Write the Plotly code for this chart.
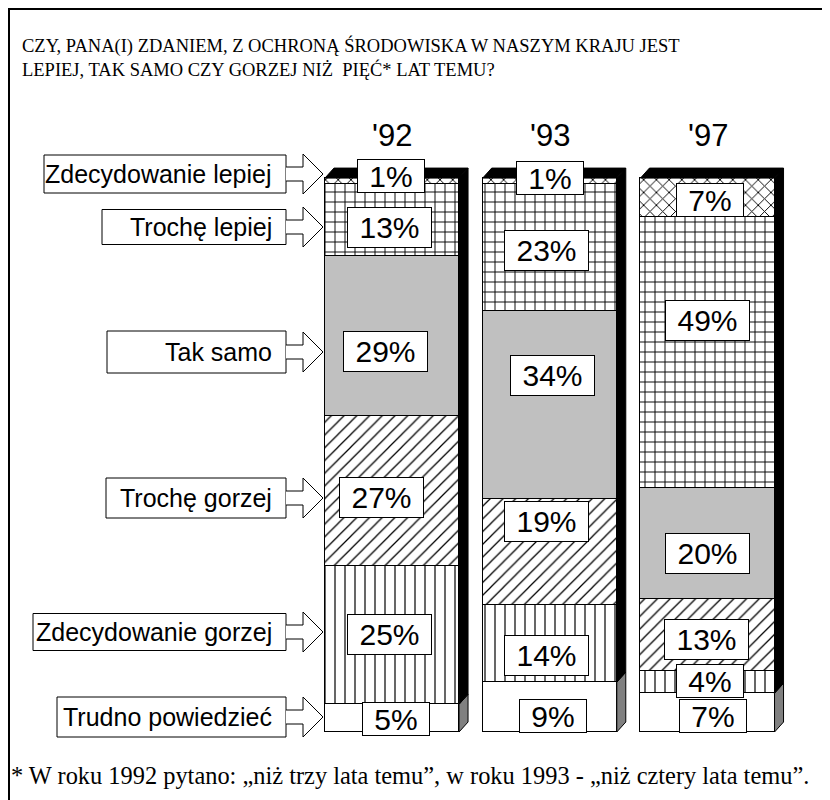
import plotly.graph_objects as go

# ---------------- data ----------------
years = ["'92", "'93", "'97"]
series_names = ["Trudno powiedzieć", "Zdecydowanie gorzej", "Trochę gorzej",
                "Tak samo", "Trochę lepiej", "Zdecydowanie lepiej"]
trudno = [5, 9, 7]
zdec_gorzej = [25, 14, 4]
troche_gorzej = [27, 19, 13]
tak_samo = [29, 34, 20]
troche_lepiej = [13, 23, 49]
zdec_lepiej = [1, 1, 7]
series_values = [trudno, zdec_gorzej, troche_gorzej, tak_samo, troche_lepiej, zdec_lepiej]

title_text = ("CZY, PANA(I) ZDANIEM, Z OCHRONĄ ŚRODOWISKA W NASZYM KRAJU JEST<br>"
              "LEPIEJ, TAK SAMO CZY GORZEJ NIŻ  PIĘĆ* LAT TEMU?")
footnote_text = "* W roku 1992 pytano: „niż trzy lata temu”, w roku 1993 - „niż cztery lata temu”."

# ---------------- styles / layout ----------------
patterns = [
    dict(shape="", color="white"),
    dict(shape="|", size=10, solidity=0.12),
    dict(shape="/", size=9, solidity=0.14),
    dict(shape="", color="#c0c0c0"),
    dict(shape="+", size=10, solidity=0.18),
    dict(shape="x", size=9, solidity=0.2),
]
# manual nudges of percent labels (pixels), order bottom->top
label_xshift = [[4, -3, -11, -7, -3, -1], [3, -3, -3, 3, -3, 0], [5, 2, -1, 0, 0, 2]]
label_yshift = [[-1, 1, -6, -16, -8, 5], [-9, -12, 30, 30, -3, 3], [-3, 1, -4, -10, 32, -3]]

# left category label boxes (page pixel geometry)
left_box_left = [57, 33, 106, 107, 102, 44]
left_box_cy = [717, 632, 498, 352, 227, 174]
left_box_h = [40, 37, 40, 42, 35, 38]
BOX_RIGHT = 286

OFF = 8  # page offset of the figure (body margin)
W, H = 822, 792
ML, MR, MT, MB = 292, 30, 159, 68
PW, PH = W - ML - MR, H - MT - MB
XMIN, XMAX = -0.5832, 2.5864
YMIN, YMAX = 0, 102
BAR_W = 0.85
DEPTH_X = 9 / (PW / (XMAX - XMIN))
DEPTH_Y = 10 / (PH / (YMAX - YMIN))


def xp(px):
    return (px - OFF - ML) / PW


def yp(py):
    return (H - MB - (py - OFF)) / PH


xs = list(range(len(years)))
fig = go.Figure()
for name, vals, pat in zip(series_names, series_values, patterns):
    if pat["shape"]:
        marker = dict(color="white",
                      pattern=dict(shape=pat["shape"], size=pat["size"], solidity=pat["solidity"],
                                   fgcolor="black", bgcolor="white", fillmode="replace"),
                      line=dict(color="black", width=1.5))
    else:
        marker = dict(color=pat["color"], line=dict(color="black", width=1.5))
    fig.add_trace(go.Bar(x=xs, y=vals, name=name, width=BAR_W, marker=marker,
                         showlegend=False, hoverinfo="skip"))

shapes = []
annotations = []

# 3D top and side faces
for i, x in enumerate(xs):
    total = sum(v[i] for v in series_values)
    x0, x1 = x - BAR_W / 2, x + BAR_W / 2
    top = (f"M {x0},{total} L {x0 + DEPTH_X},{total + DEPTH_Y} L {x1 + DEPTH_X},{total + DEPTH_Y} "
           f"L {x1},{total} Z")
    shapes.append(dict(type="path", xref="x", yref="y", path=top, fillcolor="black",
                       line=dict(color="black", width=1)))
    b = trudno[i]
    side_low = (f"M {x1},0 L {x1 + DEPTH_X},{DEPTH_Y} L {x1 + DEPTH_X},{b + DEPTH_Y} L {x1},{b} Z")
    shapes.append(dict(type="path", xref="x", yref="y", path=side_low, fillcolor="#808080",
                       line=dict(color="black", width=1)))
    side_hi = (f"M {x1},{b} L {x1 + DEPTH_X},{b + DEPTH_Y} L {x1 + DEPTH_X},{total + DEPTH_Y} "
               f"L {x1},{total} Z")
    shapes.append(dict(type="path", xref="x", yref="y", path=side_hi, fillcolor="black",
                       line=dict(color="black", width=1)))

# percent labels
for i, x in enumerate(xs):
    base = 0
    for s, vals in enumerate(series_values):
        v = vals[i]
        mid = base + v / 2
        base += v
        txt = f"{v}%"
        short = len(txt) <= 2
        annotations.append(dict(
            x=x, y=mid, xref="x", yref="y", text=txt, showarrow=False,
            xshift=label_xshift[i][s], yshift=label_yshift[i][s],
            font=dict(family="Liberation Sans, Arial, sans-serif", size=30, color="black"),
            bgcolor="white", bordercolor="black", borderwidth=1, borderpad=0,
            width=66 if short else 83, height=32 if short else 39,
            xanchor="center", yanchor="middle"))

# year labels
for i, x in enumerate(xs):
    annotations.append(dict(x=x, y=yp(135), xref="x", yref="paper", text=years[i], showarrow=False,
                            font=dict(family="Liberation Sans, Arial, sans-serif", size=31, color="black"),
                            xanchor="center", yanchor="middle"))

# left labels with hollow arrows
for name, left, cy, h in zip(series_names, left_box_left, left_box_cy, left_box_h):
    shapes.append(dict(type="rect", xref="paper", yref="paper",
                       x0=xp(left), x1=xp(BOX_RIGHT), y0=yp(cy + h / 2), y1=yp(cy - h / 2),
                       fillcolor="white", line=dict(color="black", width=1)))
    pts = [(BOX_RIGHT, cy - 7), (303, cy - 7), (303, cy - 20), (323, cy), (303, cy + 20),
           (303, cy + 7), (BOX_RIGHT, cy + 7)]
    path = "M " + " L ".join(f"{xp(a)},{yp(b)}" for a, b in pts)
    shapes.append(dict(type="path", xref="paper", yref="paper", path=path,
                       fillcolor="white", line=dict(color="black", width=1)))
    annotations.append(dict(x=xp(BOX_RIGHT - 12), y=yp(cy), xref="paper", yref="paper",
                            text=name, showarrow=False, xanchor="right", yanchor="middle",
                            font=dict(family="Liberation Sans, Arial, sans-serif", size=25,
                                      color="black")))

# title & footnote
annotations.append(dict(x=xp(20), y=yp(33), xref="paper", yref="paper", text=title_text,
                        showarrow=False, xanchor="left", yanchor="top", align="left",
                        font=dict(family="Liberation Serif, Times New Roman, serif", size=18.5,
                                  color="black")))
annotations.append(dict(x=xp(9), y=yp(775), xref="paper", yref="paper", text=footnote_text,
                        showarrow=False, xanchor="left", yanchor="middle", align="left",
                        font=dict(family="Liberation Serif, Times New Roman, serif", size=24.4,
                                  color="black")))

# outer frame
shapes.append(dict(type="rect", xref="paper", yref="paper", x0=xp(9), x1=xp(826),
                   y0=yp(812), y1=yp(9), line=dict(color="black", width=2),
                   fillcolor="rgba(0,0,0,0)", layer="below"))

fig.update_layout(
    width=W, height=H, barmode="stack",
    margin=dict(l=ML, r=MR, t=MT, b=MB, pad=0),
    paper_bgcolor="white", plot_bgcolor="white",
    xaxis=dict(range=[XMIN, XMAX], visible=False, fixedrange=True),
    yaxis=dict(range=[YMIN, YMAX], visible=False, fixedrange=True),
    shapes=shapes, annotations=annotations, bargap=0,
)

fig.write_html("out.html")
